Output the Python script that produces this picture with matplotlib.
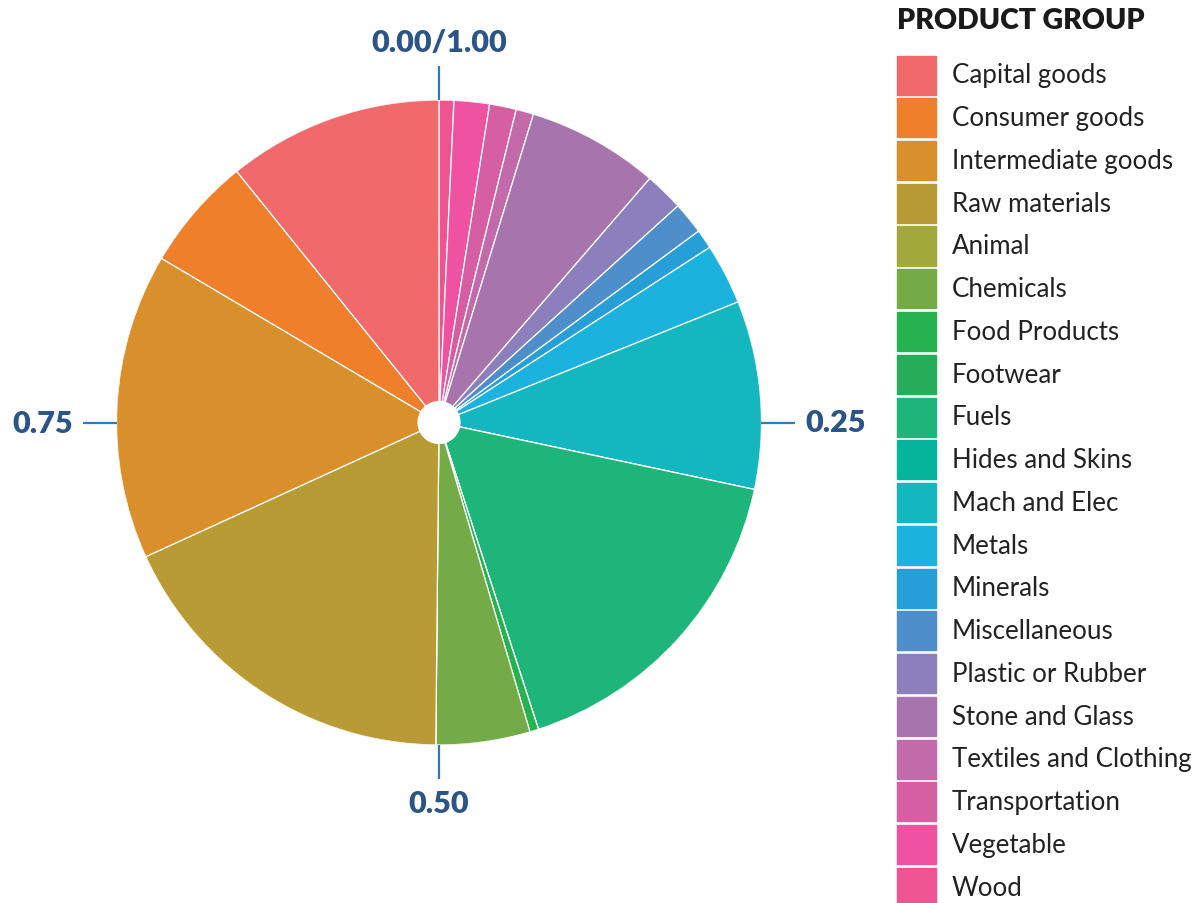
import numpy as np
import matplotlib
matplotlib.use("Agg")
import matplotlib.pyplot as plt
from matplotlib.patches import Rectangle

plt.rcParams['font.family'] = ['Lato', 'DejaVu Sans']

# ---- data: share of each product group ----
groups = ["Capital goods", "Consumer goods", "Intermediate goods", "Raw materials",
          "Animal", "Chemicals", "Food Products", "Footwear", "Fuels",
          "Hides and Skins", "Mach and Elec", "Metals", "Minerals",
          "Miscellaneous", "Plastic or Rubber", "Stone and Glass",
          "Textiles and Clothing", "Transportation", "Vegetable", "Wood"]
shares = [0.1079, 0.0571, 0.1533, 0.1801,
          0.0, 0.0471, 0.0044, 0.0, 0.1668,
          0.0, 0.0943, 0.0304, 0.0097,
          0.0161, 0.0194, 0.0661,
          0.0088, 0.0134, 0.0177, 0.0074]
colors = ["#f06a6b", "#ef7f2b", "#d98f2b", "#b99b35",
          "#a3a83b", "#74ab47", "#26b24f", "#27ad5a", "#1db57a",
          "#05b59b", "#14b7c0", "#1bb2de", "#269fd8",
          "#4e8fcb", "#8b80bb", "#a874ae",
          "#c26aaa", "#d65ea2", "#ee52a0", "#ee5590"]
tick_vals = [0.0, 0.25, 0.5, 0.75]
tick_text = ["0.00/1.00", "0.25", "0.50", "0.75"]

W, H = 1200, 904
fig = plt.figure(figsize=(W / 100, H / 100), dpi=100)

# pie drawn as stacked polar bars, clockwise from the top (last group first)
cx, cy, R = 439, 423.5, 322.5
ax = fig.add_axes([(cx - R) / W, (H - cy - R) / H, 2 * R / W, 2 * R / H],
                  projection='polar')
ax.set_theta_zero_location('N')
ax.set_theta_direction(-1)

hole = 0.065
vals = np.array(shares[::-1])
cols = colors[::-1]
starts = np.concatenate([[0], np.cumsum(vals)[:-1]]) * 2 * np.pi
ax.bar(starts, 1 - hole, width=vals * 2 * np.pi, bottom=hole, align='edge',
       color=cols, edgecolor='white', linewidth=0.9)
ax.set_ylim(0, 1)
ax.set_xticks([])
ax.set_yticks([])
ax.grid(False)
ax.spines['polar'].set_visible(False)

# axis ticks around the pie
for v, t in zip(tick_vals, tick_text):
    th = v * 2 * np.pi
    ax.plot([th, th], [1.0, 1.105], color='#2b7cc0', lw=1.6, clip_on=False,
            solid_capstyle='butt')
    ha = {0.0: 'center', 0.25: 'left', 0.5: 'center', 0.75: 'right'}[v]
    va = {0.0: 'bottom', 0.25: 'center', 0.5: 'top', 0.75: 'center'}[v]
    ax.text(th, 1.135, t, ha=ha, va=va, fontsize=22, fontweight='heavy',
            color='#2b5587', clip_on=False)

# legend, drawn by hand to match the layout
fig.text(897 / W, 1 - 21 / H, "PRODUCT GROUP", ha='left', va='center',
         fontsize=20.5, fontweight='heavy', color='#1a1a1a')
pitch = 42.75
for i, (g, c) in enumerate(zip(groups, colors)):
    yc = 76 + i * pitch
    fig.patches.append(Rectangle((897 / W, 1 - (yc + 19.5) / H), 39 / W, 39 / H,
                                 transform=fig.transFigure, color=c))
    fig.text(952 / W, 1 - yc / H, g, ha='left', va='center',
             fontsize=18.6, color='#222222')

fig.savefig("out.png", dpi=100)
